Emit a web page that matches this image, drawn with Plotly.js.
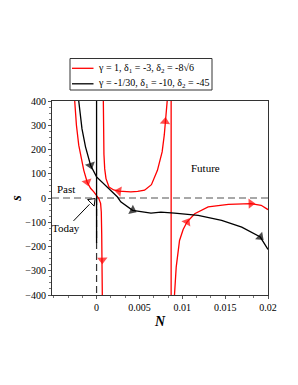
<!DOCTYPE html>
<html>
<head>
<meta charset="utf-8">
<script src="https://cdn.plot.ly/plotly-3.0.1.min.js"></script>
<style>html,body{margin:0;padding:0;background:#fff;}#plot{width:298px;height:385px;}</style>
</head>
<body>
<div id="plot"></div>
<script>
// ---- data ----
const redN1 = [-0.00255,-0.00235,-0.00208,-0.0018,-0.00149,-0.0011,-0.0007,-0.00032,0,0.00027,0.00047,0.00055,0.0006,0.00064,0.00067];
const redS1 = [400,300,218,160,114,66,40,25,11,-3,-22,-58,-150,-280,-400];
const redN2 = [0.00079,0.00081,0.00086,0.00095,0.0011,0.00145,0.002,0.0026,0.0033,0.004,0.0048,0.0056,0.0064,0.0071,0.00765,0.0079,0.0081,0.00824];
const redS2 = [400,280,180,120,80,45,33,28,25,25,27,32,55,114,190,260,342,400];
const redN3 = [0.00909,0.00929,0.00968,0.0101,0.01055,0.01145,0.01302,0.01538,0.018,0.0192,0.02];
const redS3 = [-400,-285,-175,-130,-99,-65,-37,-26,-23,-30,-48];
const redPoleN = [0.0087,0.0087];
const redPoleS = [-400,400];
const blackN = [-0.00208,-0.0019,-0.0017,-0.00129,-0.0007,0,0.00106,0.00244,0.00282,0.0042,0.00635,0.0075,0.0091,0.01185,0.01459,0.01694,0.0191,0.02];
const blackS = [400,340,285,211,135,87,52,4,-16,-51,-62,-58,-62,-72,-92,-120,-161,-212];
const blackPoleN = [0,0];
const blackPoleS = [400,-185];
const dashVN = [0,0];
const dashVS = [0,-400];
const zeroN = [-0.0052,0.02];
const zeroS = [0,0];
// direction arrows: a point just behind the arrow, and the arrow centre
const redArrowTailN = [-0.0013,0.00066,0.0030,0.00785,0.0102,0.0170];
const redArrowTailS = [90,-220,26,250,-120,-24];
const redArrowHeadN = [-0.0011,0.00067,0.0026,0.0080,0.01055,0.0180];
const redArrowHeadS = [66,-255,28,315,-99,-23];
const blackArrowTailN = [-0.0009,0.0038,0.0187];
const blackArrowTailS = [158,-44,-148];
const blackArrowHeadN = [-0.0007,0.0042,0.0191];
const blackArrowHeadS = [135,-51,-161];
const xTicks = [0,0.005,0.01,0.015,0.02];
const xTickText = ['0','0.005','0.01','0.015','0.02'];
const yTicks = [-400,-300,-200,-100,0,100,200,300,400];
const labelText = ['Past','Future'];
const labelN = [-0.00353,0.0127];
const labelS = [36,123];
const todayTipN = [-0.0005];
const todayTipS = [-14];
const legendText = ['γ = 1, δ<sub>1</sub> = -3, δ<sub>2</sub> = -8√6', 'γ = -1/30, δ<sub>1</sub> = -10, δ<sub>2</sub> = -45'];
const legendColor = ['#ff0000', '#000000'];

const FONT = 'Liberation Serif, Times New Roman, serif';
const RED = '#ff0000';

const traces = [
  {x:zeroN, y:zeroS, mode:'lines', line:{color:'#8c8c8c', width:1.5, dash:'7px,4px'}, hoverinfo:'skip'},
  {x:dashVN, y:dashVS, mode:'lines', line:{color:'#333', width:1.2, dash:'7px,4px'}, hoverinfo:'skip'},
  {x:redN1, y:redS1, mode:'lines', line:{color:RED, width:1.3}},
  {x:redN2, y:redS2, mode:'lines', line:{color:RED, width:1.3}},
  {x:redN3, y:redS3, mode:'lines', line:{color:RED, width:1.3}},
  {x:redPoleN, y:redPoleS, mode:'lines', line:{color:RED, width:1.3}},
  {x:blackN, y:blackS, mode:'lines', line:{color:'#000', width:1.3}},
  {x:blackPoleN, y:blackPoleS, mode:'lines', line:{color:'#000', width:1.3}},
  {x:todayTipN, y:todayTipS, mode:'markers', marker:{symbol:'triangle-up', angle:45, size:8, color:'#fff', line:{color:'#000', width:1}}, hoverinfo:'skip'}
];
function addArrows(tn, ts, hn, hs, color){
  for(let i=0;i<tn.length;i++){
    traces.push({x:[tn[i], hn[i]], y:[ts[i], hs[i]], mode:'markers', hoverinfo:'skip',
      marker:{symbol:'triangle-up', size:[0,9], angleref:'previous', color:color, line:{width:0}}});
  }
}
addArrows(redArrowTailN, redArrowTailS, redArrowHeadN, redArrowHeadS, RED);
addArrows(blackArrowTailN, blackArrowTailS, blackArrowHeadN, blackArrowHeadS, '#000');

const annotations = [];
for(let i=0;i<labelText.length;i++){
  annotations.push({x:labelN[i], y:labelS[i], text:labelText[i], showarrow:false, font:{family:FONT, size:11, color:'#000'}});
}
annotations.push({x:todayTipN[0], y:todayTipS[0], text:'Today', showarrow:true, arrowhead:0, arrowwidth:1, arrowcolor:'#000',
  ax:-26, ay:27, standoff:4, font:{family:FONT, size:11, color:'#000'}});

// legend drawn in paper coordinates (plot area: x 52..268 px, y 101..295 px)
const px = v => (v-52)/216;
const py = v => (295-v)/194;
const shapes = [
  {type:'rect', xref:'paper', yref:'paper', x0:px(70), x1:px(212), y0:py(90), y1:py(58.5), line:{color:'#333', width:1}, fillcolor:'#fff'}
];
const legendRowY = [68.3, 83.8];
for(let i=0;i<legendText.length;i++){
  shapes.push({type:'line', xref:'paper', yref:'paper', x0:px(72), x1:px(93.5), y0:py(legendRowY[i]), y1:py(legendRowY[i]), line:{color:legendColor[i], width:1.3}});
  annotations.push({xref:'paper', yref:'paper', x:px(95.5), y:py(legendRowY[i]), xanchor:'left', yanchor:'middle', text:legendText[i],
    showarrow:false, font:{family:FONT, size:10, color:'#000'}});
}

const layout = {
  width:298, height:385,
  margin:{l:52, r:30, t:101, b:90},
  paper_bgcolor:'#fff', plot_bgcolor:'#fff',
  font:{family:FONT, size:10, color:'#000'},
  showlegend:false,
  xaxis:{range:[-0.0052,0.02], tickvals:xTicks, ticktext:xTickText, showline:true, mirror:true, linecolor:'#333', linewidth:1,
    ticks:'outside', ticklen:3, tickcolor:'#555', showgrid:false, zeroline:false, automargin:false,
    minor:{dtick:0.005/3, ticks:'outside', ticklen:2, tickcolor:'#777', showgrid:false},
    title:{text:'<b><i>N</i></b>', font:{family:FONT, size:14}, standoff:4}},
  yaxis:{range:[-400,400], tickvals:yTicks, showline:true, mirror:true, linecolor:'#333', linewidth:1,
    ticks:'outside', ticklen:3, tickcolor:'#555', showgrid:false, zeroline:false, automargin:false,
    minor:{dtick:25, ticks:'outside', ticklen:2, tickcolor:'#777', showgrid:false},
    title:{text:'<b><i>s</i></b>', font:{family:FONT, size:14}, standoff:0}},
  shapes:shapes,
  annotations:annotations
};

Plotly.newPlot('plot', traces, layout, {displayModeBar:false, staticPlot:true});
</script>
</body>
</html>
